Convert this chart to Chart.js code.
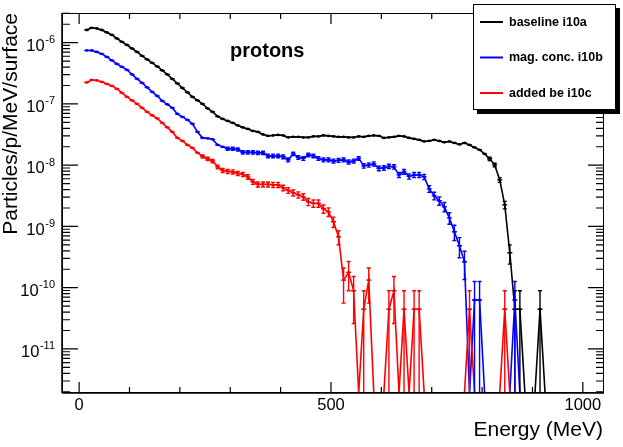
<!DOCTYPE html>
<html>
<head>
<meta charset="utf-8">
<title>protons</title>
<script src="https://cdn.jsdelivr.net/npm/chart.js@4.4.1/dist/chart.umd.min.js"></script>
<style>
  html, body { margin: 0; padding: 0; background: #fff; }
  #spectrum { display: block; }
</style>
</head>
<body>
<canvas id="spectrum" width="623" height="447"></canvas>
<script>
// bin centres in MeV (10 MeV bins)
const energy = [
    15, 25, 35, 45, 55, 65, 75, 85, 95, 105,
    115, 125, 135, 145, 155, 165, 175, 185, 195, 205,
    215, 225, 235, 245, 255, 265, 275, 285, 295, 305,
    315, 325, 335, 345, 355, 365, 375, 385, 395, 405,
    415, 425, 435, 445, 455, 465, 475, 485, 495, 505,
    515, 525, 535, 545, 555, 565, 575, 585, 595, 605,
    615, 625, 635, 645, 655, 665, 675, 685, 695, 705,
    715, 725, 735, 745, 755, 765, 775, 785, 795, 805,
    815, 825, 835, 845, 855, 865, 875, 885, 895, 905,
    915, 925
];

// particles/p/MeV/surface (0 = empty bin)
const baseline = [
    1.61e-6, 1.75e-6, 1.71e-6, 1.61e-6, 1.47e-6, 1.34e-6, 1.17e-6, 1.03e-6, 9.17e-7, 8.04e-7,
    7.05e-7, 6.07e-7, 5.32e-7, 4.67e-7, 4.09e-7, 3.52e-7, 3.03e-7, 2.56e-7, 2.16e-7, 1.82e-7,
    1.54e-7, 1.30e-7, 1.14e-7, 1.00e-7, 8.45e-8, 7.41e-8, 6.25e-8, 5.69e-8, 5.28e-8, 4.90e-8,
    4.46e-8, 4.14e-8, 3.91e-8, 3.63e-8, 3.49e-8, 3.18e-8, 3.01e-8, 3.06e-8, 3.12e-8, 3.06e-8,
    2.84e-8, 2.90e-8, 2.90e-8, 2.84e-8, 2.84e-8, 2.95e-8, 2.95e-8, 3.06e-8, 3.01e-8, 2.95e-8,
    2.90e-8, 2.90e-8, 2.84e-8, 2.84e-8, 2.95e-8, 2.90e-8, 3.01e-8, 3.06e-8, 3.01e-8, 2.79e-8,
    2.84e-8, 2.90e-8, 3.01e-8, 2.95e-8, 2.79e-8, 2.69e-8, 2.59e-8, 2.44e-8, 2.49e-8, 2.59e-8,
    2.49e-8, 2.36e-8, 2.44e-8, 2.31e-8, 2.18e-8, 2.31e-8, 2.14e-8, 1.95e-8, 1.78e-8, 1.53e-8,
    1.27e-8, 1.01e-8, 5.75e-9, 2.25e-9, 3.71e-10, 4.45e-11, 4.45e-11, 0, 0, 0,
    4.45e-11, 0
];

const magConc = [
    7.46e-7, 7.46e-7, 7.05e-7, 6.55e-7, 5.85e-7, 5.13e-7, 4.49e-7, 4.02e-7, 3.59e-7, 3.03e-7,
    2.56e-7, 2.20e-7, 1.86e-7, 1.57e-7, 1.35e-7, 1.12e-7, 9.82e-8, 8.61e-8, 6.87e-8, 6.14e-8,
    5.48e-8, 4.72e-8, 3.49e-8, 2.79e-8, 2.74e-8, 2.64e-8, 2.14e-8, 1.99e-8, 1.85e-8, 1.85e-8,
    1.81e-8, 1.62e-8, 1.62e-8, 1.62e-8, 1.59e-8, 1.59e-8, 1.42e-8, 1.42e-8, 1.42e-8, 1.37e-8,
    1.22e-8, 1.53e-8, 1.34e-8, 1.29e-8, 1.47e-8, 1.42e-8, 1.29e-8, 1.22e-8, 1.22e-8, 1.17e-8,
    1.20e-8, 1.22e-8, 1.13e-8, 1.17e-8, 1.29e-8, 9.75e-9, 1.01e-8, 1.05e-8, 8.87e-9, 9.04e-9,
    9.56e-9, 9.38e-9, 6.95e-9, 7.78e-9, 6.56e-9, 6.95e-9, 6.95e-9, 6.44e-9, 4.10e-9, 3.16e-9,
    2.62e-9, 2.09e-9, 1.38e-9, 8.17e-10, 4.83e-10, 2.65e-10, 0, 6.3e-11, 6.3e-11, 0,
    0, 0, 0, 0, 0, 6.3e-11, 0, 0, 0, 0,
    0, 0
];

const addedBe = [
    2.24e-7, 2.46e-7, 2.42e-7, 2.29e-7, 2.12e-7, 1.97e-7, 1.76e-7, 1.51e-7, 1.30e-7, 1.14e-7,
    1.00e-7, 8.61e-8, 7.41e-8, 6.49e-8, 5.80e-8, 4.90e-8, 4.14e-8, 3.49e-8, 2.79e-8, 2.49e-8,
    2.14e-8, 1.91e-8, 1.59e-8, 1.39e-8, 1.27e-8, 1.17e-8, 9.38e-9, 8.22e-9, 7.93e-9, 7.78e-9,
    7.35e-9, 7.08e-9, 6.44e-9, 5.35e-9, 4.86e-9, 4.86e-9, 4.86e-9, 4.78e-9, 4.78e-9, 4.27e-9,
    3.88e-9, 3.53e-9, 3.28e-9, 3.04e-9, 2.52e-9, 2.38e-9, 2.38e-9, 1.94e-9, 1.73e-9, 1.19e-9,
    6.76e-10, 1.33e-10, 1.78e-10, 8.9e-11, 0, 4.45e-11, 1.33e-10, 0, 0, 0,
    4.45e-11, 8.9e-11, 0, 4.45e-11, 0, 4.45e-11, 4.45e-11, 0, 0, 0,
    0, 0, 0, 0, 0, 0, 4.45e-11, 0, 0, 0,
    0, 0, 0, 4.45e-11, 0, 0, 0, 0, 0, 0,
    0, 0
];

const seriesNames = ['baseline i10a', 'mag. conc. i10b', 'added be i10c'];
// weight of one histogram entry, used for the sqrt(N) error bars
const singleEntry = [4.45e-11, 6.3e-11, 4.45e-11];

const xTickLabels = [0, 500, 1000];
const yDecades = [-6, -7, -8, -9, -10, -11];

const X_MIN = -34, X_MAX = 1042;
const Y_MIN = 1.91e-12, Y_MAX = 3.05e-6;
const BIN_HALF = 5;

const series = [baseline, magConc, addedBe];
const colors = ['#000000', '#0000ff', '#ff0000'];
const FONT = '"Liberation Sans", Arial, Helvetica, sans-serif';

// ===== error bars (ROOT E1 style) =====
const errorBars = {
    id: 'errorBars',
    afterDatasetsDraw(chart) {
        const { ctx, chartArea: a, scales: { x, y } } = chart;
        ctx.save();
        ctx.beginPath();
        ctx.rect(a.left, a.top, a.right - a.left, a.bottom - a.top);
        ctx.clip();
        ctx.lineWidth = 1.4;
        series.forEach((vals, i) => {
            ctx.strokeStyle = colors[i];
            vals.forEach((v, j) => {
                if (!(v > 0)) return;
                const err = Math.sqrt(v * singleEntry[i]);
                const px = x.getPixelForValue(energy[j]);
                const py = y.getPixelForValue(v);
                const top = y.getPixelForValue(v + err);
                const bot = v - err > 0 ? y.getPixelForValue(v - err) : a.bottom + 5;
                ctx.beginPath();
                // bin width
                ctx.moveTo(x.getPixelForValue(energy[j] - BIN_HALF), py);
                ctx.lineTo(x.getPixelForValue(energy[j] + BIN_HALF), py);
                if (bot - top > 3) {
                    ctx.moveTo(px, top);
                    ctx.lineTo(px, bot);
                    ctx.moveTo(px - 2, top);
                    ctx.lineTo(px + 2, top);
                    ctx.moveTo(px - 2, bot);
                    ctx.lineTo(px + 2, bot);
                }
                ctx.stroke();
            });
        });
        ctx.restore();
    }
};

// ===== frame, ticks, labels, legend =====
const decorations = {
    id: 'decorations',
    afterDraw(chart) {
        const { ctx, chartArea: a, scales: { x, y } } = chart;
        const seg = (x1, y1, x2, y2) => { ctx.moveTo(x1, y1); ctx.lineTo(x2, y2); };
        ctx.save();
        ctx.strokeStyle = '#000';
        ctx.lineWidth = 1;
        ctx.strokeRect(a.left + 0.5, a.top + 0.5, a.right - a.left - 1, a.bottom - a.top - 1);

        ctx.beginPath();
        ctx.lineWidth = 1.5;
        seg(a.left, a.top, a.left, a.bottom);
        seg(a.left, a.bottom, a.right, a.bottom);
        ctx.stroke();

        // x ticks, every 100 MeV
        ctx.beginPath();
        ctx.lineWidth = 1.2;
        for (let e = 0; e <= 1000; e += 100) {
            const px = x.getPixelForValue(e);
            const len = xTickLabels.includes(e) ? 11 : 6;
            seg(px, a.bottom, px, a.bottom - len);
            seg(px, a.top, px, a.top + len);
        }
        // y ticks, log decades
        for (let d = -12; d <= -6; d++) {
            for (let m = 1; m <= 9; m++) {
                const val = m * Math.pow(10, d);
                if (val < Y_MIN || val > Y_MAX) continue;
                const py = y.getPixelForValue(val);
                const len = m === 1 ? 16 : 8;
                seg(a.left, py, a.left + len, py);
                seg(a.right, py, a.right - len, py);
            }
        }
        ctx.stroke();

        // tick labels
        ctx.fillStyle = '#000';
        ctx.font = '16.5px ' + FONT;
        ctx.textAlign = 'center';
        ctx.textBaseline = 'alphabetic';
        xTickLabels.forEach(e => ctx.fillText(String(e), x.getPixelForValue(e), 410));

        yDecades.forEach(d => {
            const py = y.getPixelForValue(Math.pow(10, d));
            const exp = String(d);
            ctx.font = '11px ' + FONT;
            const ew = ctx.measureText(exp).width;
            ctx.textAlign = 'right';
            ctx.fillText(exp, 55, py + 0.5);
            ctx.font = '16.5px ' + FONT;
            ctx.fillText('10', 55 - ew - 0.5, py + 8.3);
        });

        // axis titles
        ctx.font = '21px ' + FONT;
        ctx.textAlign = 'right';
        ctx.fillText('Energy (MeV)', 603, 436);
        ctx.save();
        ctx.translate(17, 13);
        ctx.rotate(-Math.PI / 2);
        ctx.fillText('Particles/p/MeV/surface', 0, 0);
        ctx.restore();

        // label inside the frame
        ctx.font = 'bold 20px ' + FONT;
        ctx.textAlign = 'left';
        ctx.fillText('protons', 230, 57);

        // legend with shadow
        ctx.fillStyle = '#000';
        ctx.fillRect(477, 8, 143, 106);
        ctx.fillStyle = '#fff';
        ctx.fillRect(473, 4, 143, 106);
        ctx.lineWidth = 1;
        ctx.strokeStyle = '#000';
        ctx.strokeRect(473.5, 4.5, 142, 105);
        const rows = [22, 57.5, 93];
        ctx.font = 'bold 12.5px ' + FONT;
        ctx.textBaseline = 'middle';
        seriesNames.forEach((name, i) => {
            ctx.beginPath();
            ctx.strokeStyle = colors[i];
            ctx.lineWidth = 2;
            seg(480, rows[i], 503, rows[i]);
            ctx.stroke();
            ctx.fillStyle = '#000';
            ctx.fillText(name, 509, rows[i] + 0.5);
        });
        ctx.restore();
    }
};

const ctx = document.getElementById('spectrum').getContext('2d');
new Chart(ctx, {
    type: 'line',
    data: {
        datasets: series.map((vals, i) => ({
            label: seriesNames[i],
            data: energy.map((e, j) => ({ x: e, y: vals[j] > 0 ? vals[j] : Y_MIN })),
            borderColor: colors[i],
            backgroundColor: colors[i],
            borderWidth: 1.6,
            pointRadius: c => (vals[c.dataIndex] > 0 ? 1.4 : 0),
            pointBorderWidth: 0,
            tension: 0,
            order: 3 - i
        }))
    },
    options: {
        responsive: false,
        animation: false,
        events: [],
        layout: { padding: { left: 62, right: 19, top: 13, bottom: 54 } },
        scales: {
            x: { type: 'linear', min: X_MIN, max: X_MAX, display: false },
            y: { type: 'logarithmic', min: Y_MIN, max: Y_MAX, display: false }
        },
        plugins: {
            legend: { display: false },
            tooltip: { enabled: false }
        }
    },
    plugins: [errorBars, decorations]
});
</script>
</body>
</html>
